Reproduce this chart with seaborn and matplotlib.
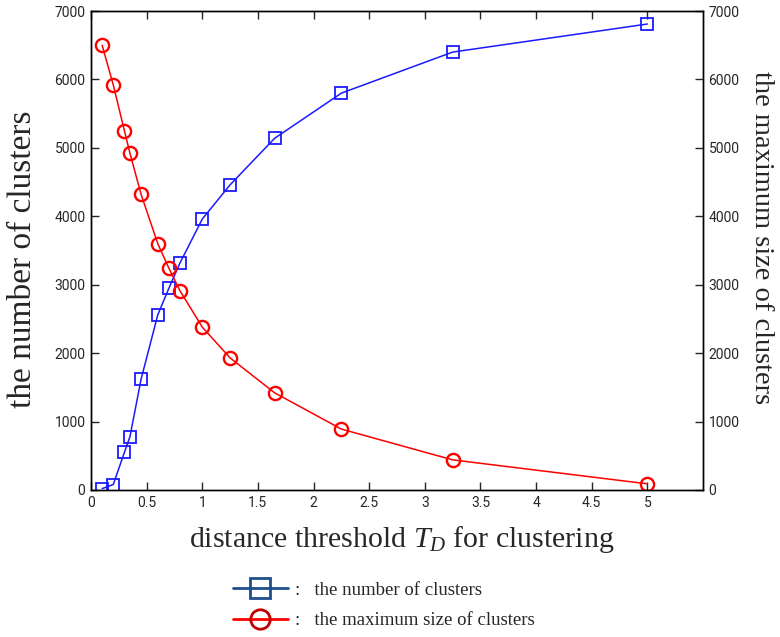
import matplotlib
matplotlib.use("Agg")
import matplotlib.pyplot as plt
import seaborn as sns
import pandas as pd
from matplotlib.lines import Line2D

# ---- data ----
threshold = [0.1, 0.2, 0.3, 0.35, 0.45, 0.6, 0.7, 0.8, 1.0, 1.25, 1.65, 2.25, 3.25, 5.0]
num_clusters = [20, 80, 550, 780, 1620, 2560, 2950, 3320, 3960, 4460, 5140, 5800, 6400, 6810]
max_size = [6500, 5920, 5250, 4920, 4320, 3600, 3240, 2910, 2380, 1930, 1420, 890, 440, 90]
x_ticks = [0, 0.5, 1, 1.5, 2, 2.5, 3, 3.5, 4, 4.5, 5]
x_tick_labels = ["0", "0.5", "1", "1.5", "2", "2.5", "3", "3.5", "4", "4.5", "5"]
y_ticks = [0, 1000, 2000, 3000, 4000, 5000, 6000, 7000]

df = pd.DataFrame({"T": threshold, "num": num_clusters, "size": max_size})

sns.set_style("ticks")
plt.rcParams["mathtext.fontset"] = "custom"
plt.rcParams["mathtext.it"] = "Liberation Serif:italic"
plt.rcParams["mathtext.rm"] = "Liberation Serif"
serif = ["Liberation Serif", "DejaVu Serif"]
narrow = ["Roboto", "DejaVu Sans"]

fig = plt.figure(figsize=(7.8, 6.37), dpi=100)
ax = fig.add_axes([0.1167, 0.2308, 0.7846, 0.7519])
ax2 = ax.twinx()

sns.lineplot(data=df, x="T", y="num", ax=ax, color="#1a1aff", marker="s",
             markersize=9, markerfacecolor="none", markeredgecolor="#1a1aff",
             markeredgewidth=1.3, linewidth=1.1, legend=False)
sns.lineplot(data=df, x="T", y="size", ax=ax2, color="#ff0000", marker="o",
             markersize=9.5, markerfacecolor="none", markeredgecolor="#ff0000",
             markeredgewidth=1.7, linewidth=1.1, legend=False)

for a in (ax, ax2):
    a.set_xlim(0, 5.5)
    a.set_ylim(0, 7000)
    a.set_yticks(y_ticks)
    for s in a.spines.values():
        s.set_visible(True)
        s.set_color("black")
        s.set_linewidth(1.0)

ax.set_xticks(x_ticks)
ax.set_xticklabels(x_tick_labels, family=narrow, fontsize=10)
ax.set_yticklabels([str(v) for v in y_ticks], family=narrow, fontsize=10)
ax2.set_yticklabels([str(v) for v in y_ticks], family=narrow, fontsize=10)
ax.tick_params(axis="x", direction="in", top=True, length=6, width=1, pad=4)
ax.tick_params(axis="y", direction="in", length=6, width=1, pad=4)
ax2.tick_params(axis="y", direction="in", length=6, width=1, pad=4)

ax.set_xlabel(r"distance threshold $T_D$ for clustering", family=serif, fontsize=21.5)
ax.set_ylabel("the number of clusters", family=serif, fontsize=24)
ax2.set_ylabel("the maximum size of clusters", family=serif, fontsize=20.5, rotation=270)
ax.xaxis.set_label_coords(0.507, -0.104)
ax.xaxis.label.set_va("center")
ax.yaxis.set_label_coords(-0.111, 0.482)
ax.yaxis.label.set_va("center")
ax2.yaxis.set_label_coords(1.095, 0.526)
ax2.yaxis.label.set_va("center")

handles = [
    Line2D([0], [0], color="#1f4e8c", linewidth=2, marker="s", markersize=14,
           markerfacecolor="none", markeredgecolor="#1f4e8c", markeredgewidth=2),
    Line2D([0], [0], color="#ff0000", linewidth=2, marker="o", markersize=14,
           markerfacecolor="none", markeredgecolor="#c00000", markeredgewidth=2),
]
labels = [":   the number of clusters", ":   the maximum size of clusters"]
fig.legend(handles, labels, loc="upper left", bbox_to_anchor=(0.287, 0.1014),
           frameon=False, handlelength=2.9, handletextpad=0.4, labelspacing=0.7,
           prop={"family": serif, "size": 13.5}, borderpad=0)

fig.savefig("out.png", dpi=100)
